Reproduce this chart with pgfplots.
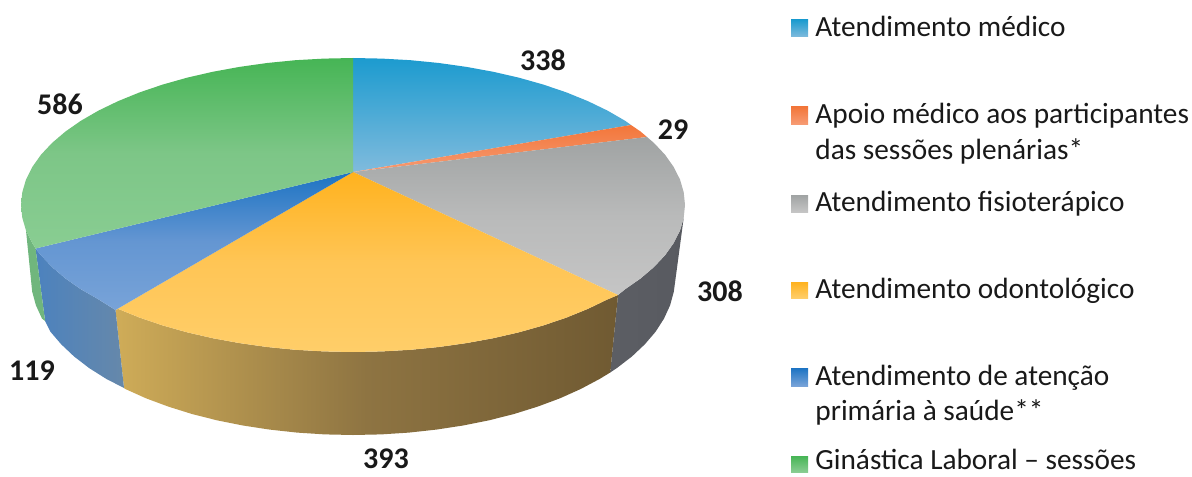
\documentclass[border=0pt]{standalone}
\usepackage{pgfplots}
\pgfplotsset{compat=1.18}
\usepackage{fontspec}
\setmainfont{Carlito}
\definecolor{blueT}{RGB}{28,155,207}
\definecolor{blueB}{RGB}{128,187,221}
\definecolor{oranT}{RGB}{242,118,58}
\definecolor{oranB}{RGB}{247,155,115}
\definecolor{grayT}{RGB}{160,163,163}
\definecolor{grayM}{RGB}{185,186,186}
\definecolor{grayB}{RGB}{197,197,197}
\definecolor{goldT}{RGB}{255,178,30}
\definecolor{goldM}{RGB}{255,197,85}
\definecolor{goldB}{RGB}{255,206,105}
\definecolor{darkT}{RGB}{28,115,195}
\definecolor{darkM}{RGB}{100,150,210}
\definecolor{darkB}{RGB}{120,163,216}
\definecolor{grenT}{RGB}{70,181,85}
\definecolor{grenM}{RGB}{125,198,135}
\definecolor{grenB}{RGB}{137,205,146}
\definecolor{wallGrayL}{RGB}{92,94,100}
\definecolor{wallGrayR}{RGB}{88,90,96}
\definecolor{wallGoldL}{RGB}{207,172,88}
\definecolor{wallGoldM}{RGB}{142,116,66}
\definecolor{wallGoldR}{RGB}{112,90,50}
\definecolor{wallDarkL}{RGB}{76,130,190}
\definecolor{wallDarkR}{RGB}{102,136,170}
\definecolor{wallGren}{RGB}{112,182,125}
\tikzset{
  swatch/.style n args={2}{top color=#1, bottom color=#2, draw=none},
  face/.style n args={3}{top color=#1, bottom color=#3, middle color=#2, draw=none},
  lab/.style={anchor=base west, font=\fontsize{14.65}{14.65}\selectfont, text=black!90, inner sep=0pt},
  val/.style={anchor=center, font=\fontsize{15}{15}\selectfont\bfseries, text=black!90, inner sep=0pt},
}
\begin{document}
\begin{tikzpicture}
\begin{axis}[
    name=ax,
    width=596pt, height=238pt,
    scale only axis,
    xmin=0, xmax=1192, ymin=0, ymax=476,
    y dir=reverse,
    hide axis,
    clip=false,
]
% side walls (pixel coordinates of the reference)
\addplot[draw=none, left color=wallGrayL, right color=wallGrayR] coordinates {
  (618,295) (625,289.3) (640.5,278.5) (653.9,267.1) (665,255.3) (673.7,243) (680,230.5) (683.7,217.8)
  (673.8,291.7) (670.1,305.3) (664,318.6) (655.6,331.7) (644.8,344.3) (631.9,356.5) (616.8,368.1) (610.2,372.5)
} --cycle;
\addplot[draw=none, left color=wallGoldL, right color=wallGoldR, middle color=wallGoldM] coordinates {
  (115.5,310) (118.2,308.9) (139.6,317.6) (162.6,325.4) (187,332.3) (212.7,338.2) (239.5,343.1) (267.1,347)
  (295.4,349.8) (324,351.4) (353,352) (382,351.4) (410.6,349.8) (438.9,347) (466.5,343.1) (493.3,338.2)
  (519,332.3) (543.4,325.4) (566.4,317.6) (587.8,308.9) (607.3,299.5) (618,295)
  (610.2,372.5) (599.7,378.9) (580.7,389) (560,398.3) (537.7,406.6) (514,414) (489.1,420.3) (463.1,425.5)
  (436.3,429.6) (408.9,432.6) (381.1,434.4) (353,435) (324.9,434.4) (297.1,432.6) (269.7,429.6) (242.9,425.5)
  (216.9,420.3) (192,414) (168.3,406.6) (146,398.3) (125.3,389) (124,388)
} --cycle;
\addplot[draw=none, left color=wallDarkL, right color=wallDarkR] coordinates {
  (35.5,248.5) (41,255.3) (52.1,267.1) (65.5,278.5) (81,289.3) (98.7,299.5) (115.5,310)
  (124,388) (106.3,378.9) (89.2,368.1) (74.1,356.5) (61.2,344.3) (50.4,331.7) (45.1,321)
} --cycle;
\addplot[draw=none, fill=wallGren] coordinates {
  (35.5,248.5) (32.3,243) (26,230.5) (32.2,291.7) (35.9,305.3) (42,318.6) (45.1,321)
} --cycle;
% top faces
\addplot[swatch={blueT}{blueB}] coordinates {
  (353,172) (353,58) (382,58.6) (410.6,60.2) (438.9,63) (466.5,66.9) (493.3,71.8) (519,77.7) (543.4,84.6)
  (566.4,92.4) (587.8,101.1) (607.3,110.5) (625,120.7) (631,125)
} --cycle;
\addplot[swatch={oranT}{oranB}] coordinates {
  (353,172) (631,125) (640.5,131.5) (647,137)
} --cycle;
\addplot[face={grayT}{grayM}{grayB}] coordinates {
  (353,172) (647,137) (653.9,142.9) (665,154.7) (673.7,167) (680,179.5) (683.7,192.2) (685,205)
  (683.7,217.8) (680,230.5) (673.7,243) (665,255.3) (653.9,267.1) (640.5,278.5) (625,289.3) (618,295)
} --cycle;
\addplot[face={goldT}{goldM}{goldB}] coordinates {
  (353,172) (618,295) (607.3,299.5) (587.8,308.9) (566.4,317.6) (543.4,325.4) (519,332.3) (493.3,338.2)
  (466.5,343.1) (438.9,347) (410.6,349.8) (382,351.4) (353,352) (324,351.4) (295.4,349.8) (267.1,347)
  (239.5,343.1) (212.7,338.2) (187,332.3) (162.6,325.4) (139.6,317.6) (118.2,308.9) (115.5,310)
} --cycle;
\addplot[face={darkT}{darkM}{darkB}] coordinates {
  (353,172) (115.5,310) (98.7,299.5) (81,289.3) (65.5,278.5) (52.1,267.1) (41,255.3) (35.5,248.5)
} --cycle;
\addplot[face={grenT}{grenM}{grenB}] coordinates {
  (353,172) (35.5,248.5) (32.3,243) (26,230.5) (22.3,217.8) (21,205) (22.3,192.2) (26,179.5) (32.3,167)
  (41,154.7) (52.1,142.9) (65.5,131.5) (81,120.7) (98.7,110.5) (118.2,101.1) (139.6,92.4) (162.6,84.6)
  (187,77.7) (212.7,71.8) (239.5,66.9) (267.1,63) (295.4,60.2) (324,58.6) (353,58)
} --cycle;
% value labels
\node[val] at (axis cs:543,60) {338};
\node[val] at (axis cs:673,130) {29};
\node[val] at (axis cs:720,291) {308};
\node[val] at (axis cs:386,459) {393};
\node[val] at (axis cs:32,371) {119};
\node[val] at (axis cs:60,104) {586};
% legend
\addplot[swatch={blueT}{blueB}] coordinates {(791,20) (808,20) (808,37) (791,37)} --cycle;
\addplot[swatch={oranT}{oranB}] coordinates {(791,107) (808,107) (808,124) (791,124)} --cycle;
\addplot[swatch={grayT}{grayB}] coordinates {(791,195) (808,195) (808,212) (791,212)} --cycle;
\addplot[swatch={goldT}{goldB}] coordinates {(791,282) (808,282) (808,298) (791,298)} --cycle;
\addplot[swatch={darkT}{darkB}] coordinates {(791,368) (808,368) (808,386) (791,386)} --cycle;
\addplot[swatch={grenT}{grenB}] coordinates {(791,456) (808,456) (808,472) (791,472)} --cycle;
\node[lab] at (axis cs:815,37) {Atendimento médico};
\node[lab] at (axis cs:815,124) {Apoio médico aos participantes};
\node[lab] at (axis cs:815,159) {das sessões plenárias*};
\node[lab] at (axis cs:815,211) {Atendimento fisioterápico};
\node[lab] at (axis cs:815,298) {Atendimento odontológico};
\node[lab] at (axis cs:815,385) {Atendimento de atenção};
\node[lab] at (axis cs:815,420) {primária à saúde**};
\node[lab] at (axis cs:815,469) {Ginástica Laboral -- sessões};
\end{axis}
\useasboundingbox (ax.south west) rectangle (ax.north east);
\end{tikzpicture}
\end{document}
